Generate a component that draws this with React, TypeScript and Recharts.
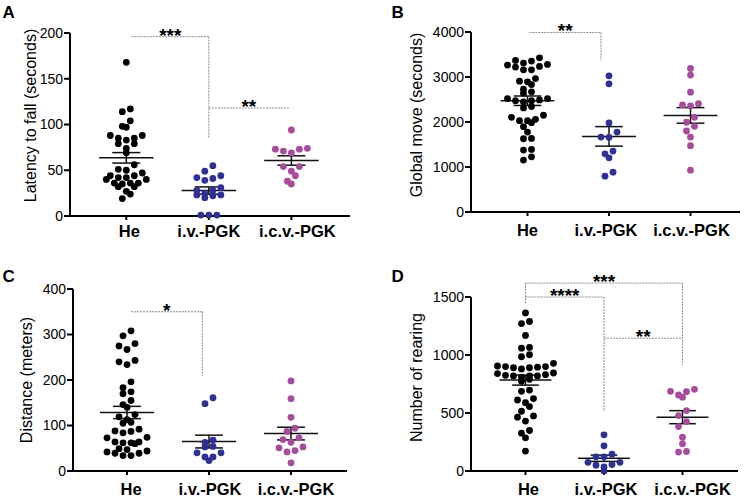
import React from 'react';
import { ScatterChart, Scatter, XAxis, YAxis, ReferenceLine } from 'recharts';

const FONT = '"Liberation Sans", Arial, Helvetica, sans-serif';

const categories = ['He', 'i.v.-PGK', 'i.c.v.-PGK'];
const groupColors = ['#000000', '#2E3192', '#A64C9B'];

// Panel A: Latency to fall (seconds)
const latencyHe = [168, 117, 114, 104, 97, 98, 88, 88, 85, 85, 83, 79, 79, 74, 69, 56, 51, 50, 47, 44, 42, 40, 40, 42, 44, 36, 35, 36, 36, 32, 32, 27, 24, 19];
const latencyIv = [55, 49, 44, 41, 42, 39, 31, 28, 28, 23, 22, 20, 23, 25, 1, 1, 1];
const latencyIcv = [94, 74, 73, 69, 71, 73, 54, 54, 49, 44, 35, 38];
const latencyTicks = [0, 50, 100, 150, 200];

// Panel B: Global move (seconds)
const moveHe = [3427, 3279, 3234, 3354, 3368, 3265, 3309, 3160, 3160, 3220, 2908, 2832, 2966, 2892, 2730, 2670, 2640, 2491, 2475, 2520, 2520, 2446, 2475, 2342, 2312, 2150, 2105, 2029, 1985, 2029, 2060, 1896, 1777, 1628, 1636, 1391, 1376, 1153, 1226];
const moveIv = [3026, 2848, 1978, 1777, 1659, 1666, 1354, 1293, 1204, 885, 796];
const moveIcv = [3189, 3042, 2662, 2379, 2357, 2408, 2105, 1994, 1904, 1800, 1666, 1472, 930];
const moveTicks = [0, 1000, 2000, 3000, 4000];

// Panel C: Distance (meters)
const distHe = [308, 297, 280, 267, 275, 240, 234, 243, 196, 174, 170, 183, 155, 146, 140, 119, 107, 105, 113, 124, 87, 84, 88, 92, 73, 74, 64, 62, 60, 62, 64, 47, 44, 39, 34, 34, 39, 42, 49];
const distIv = [161, 148, 68, 63, 54, 53, 40, 40, 31, 31, 23];
const distIcv = [198, 159, 118, 94, 87, 73, 69, 63, 53, 51, 45, 42, 18];
const distTicks = [0, 100, 200, 300, 400];

// Panel D: Number of rearing
const rearHe = [1363, 1289, 1271, 1168, 1059, 1065, 1002, 985, 928, 900, 895, 890, 880, 890, 900, 905, 825, 820, 810, 845, 840, 830, 820, 820, 773, 790, 698, 687, 624, 589, 612, 555, 515, 475, 464, 430, 349, 326, 286, 172];
const rearIv = [312, 217, 145, 122, 122, 75, 75, 50, 35, 55, 0];
const rearIcv = [704, 684, 687, 636, 655, 521, 478, 426, 383, 292, 235, 163, 168];
const rearTicks = [0, 500, 1000, 1500];

type Bracket = { x1: number; x2: number; y: number; stars: string; drop1?: number; drop2?: number };

const bracketsA: Bracket[] = [
  { x1: 1.066, x2: 2, y: 196, drop2: 85, stars: '***' },
  { x1: 2, x2: 2.97, y: 118, stars: '**' },
];
const bracketsB: Bracket[] = [{ x1: 1.022, x2: 1.902, y: 3990, drop2: 3370, stars: '**' }];
const bracketsC: Bracket[] = [{ x1: 1.048, x2: 1.918, y: 350, drop2: 209, stars: '*' }];
const bracketsD: Bracket[] = [
  { x1: 1, x2: 3, y: 1620, drop1: 1443, drop2: 913, stars: '***' },
  { x1: 1, x2: 2, y: 1500, drop2: 512, stars: '****' },
  { x1: 2, x2: 3, y: 1145, stars: '**' },
];

type PanelCfg = {
  letter: string;
  left: number;
  top: number;
  width: number;
  height: number;
  marginTop: number;
  marginRight: number;
  yAxisWidth: number;
  xAxisHeight: number;
  xDomain: [number, number];
  xTickMargin: number;
  labelNudge: number[];
  yTicks: number[];
  yLabel: string;
  yLabelDx: number;
  yLabelDy: number;
  groups: number[][];
  brackets: Bracket[];
};

const panels: PanelCfg[] = [
  {
    letter: 'A', left: 0, top: 0, width: 370, height: 250, marginTop: 33, marginRight: 20,
    yAxisWidth: 70, xAxisHeight: 34, xDomain: [0.318, 3.71], xTickMargin: 5, labelNudge: [3, 0, 6],
    yTicks: latencyTicks, yLabel: 'Latency to fall (seconds)', yLabelDx: -5, yLabelDy: -9,
    groups: [latencyHe, latencyIv, latencyIcv], brackets: bracketsA,
  },
  {
    letter: 'B', left: 370, top: 0, width: 377, height: 250, marginTop: 32, marginRight: 7,
    yAxisWidth: 101, xAxisHeight: 38, xDomain: [0.307, 3.607], xTickMargin: 8, labelNudge: [0, -3, 1],
    yTicks: moveTicks, yLabel: 'Global move (seconds)', yLabelDx: -4.5, yLabelDy: -7,
    groups: [moveHe, moveIv, moveIcv], brackets: bracketsB,
  },
  {
    letter: 'C', left: 0, top: 250, width: 370, height: 247, marginTop: 39, marginRight: 23,
    yAxisWidth: 73, xAxisHeight: 26, xDomain: [0.341, 3.683], xTickMargin: 8, labelNudge: [4, 1, 5],
    yTicks: distTicks, yLabel: 'Distance (meters)', yLabelDx: -10, yLabelDy: 0,
    groups: [distHe, distIv, distIcv], brackets: bracketsC,
  },
  {
    letter: 'D', left: 370, top: 250, width: 377, height: 247, marginTop: 47, marginRight: 9,
    yAxisWidth: 101, xAxisHeight: 26, xDomain: [0.306, 3.707], xTickMargin: 8, labelNudge: [3, 2, 10],
    yTicks: rearTicks, yLabel: 'Number of rearing', yLabelDx: -4.5, yLabelDy: -6.5,
    groups: [rearHe, rearIv, rearIcv], brackets: bracketsD,
  },
];

// Prism-like column scatter layout: points in the same value band are spread sideways.
function swarm(values: number[], center: number, pxPerY: number, pxPerX: number) {
  const binPx = 6;
  const stepPx = 8;
  const sorted = [...values].sort((a, b) => b - a);
  const bins: number[][] = [];
  let cur: number[] = [];
  for (const v of sorted) {
    if (cur.length && (cur[0] - v) * pxPerY >= binPx) {
      bins.push(cur);
      cur = [];
    }
    cur.push(v);
  }
  if (cur.length) bins.push(cur);
  const pts: { x: number; y: number }[] = [];
  for (const bin of bins) {
    const n = bin.length;
    const offs = Array.from({ length: n }, (_, i) => i - (n - 1) / 2);
    const order = offs
      .map((_, i) => i)
      .sort((a, b) => Math.abs(offs[a]) - Math.abs(offs[b]) || offs[a] - offs[b]);
    const asc = [...bin].sort((a, b) => a - b);
    order.forEach((idx, k) => pts.push({ x: center + (offs[idx] * stepPx) / pxPerX, y: asc[k] }));
  }
  return pts;
}

function stats(values: number[]) {
  const n = values.length;
  const mean = values.reduce((s, v) => s + v, 0) / n;
  const sd = Math.sqrt(values.reduce((s, v) => s + (v - mean) ** 2, 0) / (n - 1));
  return { mean, sem: sd / Math.sqrt(n) };
}

const dotShape = (color: string) => (props: any) => (
  <circle cx={props.cx} cy={props.cy} r={3.4} fill={color} />
);

const BR = { stroke: '#8c8c8c', strokeWidth: 1, strokeDasharray: '2 1' };
const MEAN = { stroke: '#111', strokeWidth: 1.5 };

const makeCategoryTick = (nudge: number[]) => (props: any) => {
  const idx = Math.round(props.payload?.value ?? 0) - 1;
  return (
    <text
      x={props.x + (nudge[idx] ?? 0)}
      y={props.y}
      dy="0.71em"
      textAnchor="middle"
      fill="#000"
      fontSize={16.5}
      fontWeight={700}
      fontFamily={FONT}
    >
      {categories[idx] ?? ''}
    </text>
  );
};

function Panel({ cfg }: { cfg: PanelCfg }) {
  const yMax = cfg.yTicks[cfg.yTicks.length - 1];
  const plotW = cfg.width - cfg.yAxisWidth - cfg.marginRight;
  const plotH = cfg.height - cfg.marginTop - cfg.xAxisHeight;
  const pxPerX = plotW / (cfg.xDomain[1] - cfg.xDomain[0]);
  const pxPerY = plotH / yMax;
  const meanHalf = 0.33;
  const capHalf = 0.17;

  const lines: React.ReactNode[] = [];
  cfg.groups.forEach((vals, gi) => {
    const c = gi + 1;
    const { mean, sem } = stats(vals);
    lines.push(
      <ReferenceLine key={`m${gi}`} segment={[{ x: c - meanHalf, y: mean }, { x: c + meanHalf, y: mean }]} ifOverflow="visible" {...MEAN} />,
      <ReferenceLine key={`u${gi}`} segment={[{ x: c - capHalf, y: mean + sem }, { x: c + capHalf, y: mean + sem }]} ifOverflow="visible" {...MEAN} />,
      <ReferenceLine key={`l${gi}`} segment={[{ x: c - capHalf, y: mean - sem }, { x: c + capHalf, y: mean - sem }]} ifOverflow="visible" {...MEAN} />,
      <ReferenceLine key={`v${gi}`} segment={[{ x: c, y: mean - sem }, { x: c, y: mean + sem }]} ifOverflow="visible" {...MEAN} />,
    );
  });

  cfg.brackets.forEach((b, bi) => {
    lines.push(
      <ReferenceLine
        key={`bh${bi}`}
        segment={[{ x: b.x1, y: b.y }, { x: b.x2, y: b.y }]}
        ifOverflow="visible"
        {...BR}
        label={{ value: b.stars, position: 'top', offset: -5, fontSize: 19, fontWeight: 700, fill: '#000', fontFamily: FONT }}
      />,
    );
    if (b.drop1 !== undefined) {
      lines.push(
        <ReferenceLine key={`bd1${bi}`} segment={[{ x: b.x1, y: b.y }, { x: b.x1, y: b.drop1 }]} ifOverflow="visible" {...BR} />,
      );
    }
    if (b.drop2 !== undefined) {
      lines.push(
        <ReferenceLine key={`bd2${bi}`} segment={[{ x: b.x2, y: b.y }, { x: b.x2, y: b.drop2 }]} ifOverflow="visible" {...BR} />,
      );
    }
  });

  return (
    <div style={{ position: 'absolute', left: cfg.left, top: cfg.top }}>
      <ScatterChart
        width={cfg.width}
        height={cfg.height}
        margin={{ top: cfg.marginTop, right: cfg.marginRight, bottom: 0, left: 0 }}
      >
        <XAxis
          type="number"
          dataKey="x"
          domain={cfg.xDomain}
          ticks={[1, 2, 3]}
          interval={0}
          height={cfg.xAxisHeight}
          tickSize={4}
          tickMargin={cfg.xTickMargin}
          axisLine={{ stroke: '#000', strokeWidth: 2 }}
          tickLine={{ stroke: '#000', strokeWidth: 2 }}
          tick={makeCategoryTick(cfg.labelNudge)}
        />
        <YAxis
          type="number"
          dataKey="y"
          domain={[0, yMax]}
          ticks={cfg.yTicks}
          interval={0}
          width={cfg.yAxisWidth}
          tickSize={6}
          tickMargin={1}
          axisLine={{ stroke: '#000', strokeWidth: 2 }}
          tickLine={{ stroke: '#000', strokeWidth: 2 }}
          tick={{ fill: '#000', fontSize: 14, fontFamily: FONT }}
          label={{
            value: cfg.yLabel,
            angle: -90,
            position: 'center',
            dx: cfg.yLabelDx,
            dy: cfg.yLabelDy,
            fontSize: 16,
            fill: '#000',
            fontFamily: FONT,
          }}
        />
        {cfg.groups.map((vals, gi) => (
          <Scatter
            key={gi}
            data={swarm(vals, gi + 1, pxPerY, pxPerX)}
            shape={dotShape(groupColors[gi])}
            isAnimationActive={false}
          />
        ))}
        {lines}
      </ScatterChart>
    </div>
  );
}

const letterPos = [
  { x: 2.5, y: 18.3 },
  { x: 391.5, y: 17.5 },
  { x: 2.5, y: 282.3 },
  { x: 391.5, y: 282.3 },
];

export default function App() {
  return (
    <div
      style={{
        position: 'absolute',
        left: 0,
        top: 0,
        width: 747,
        height: 497,
        background: '#fff',
        fontFamily: FONT,
      }}
    >
      {panels.map((p) => (
        <Panel key={p.letter} cfg={p} />
      ))}
      <svg width={747} height={497} style={{ position: 'absolute', left: 0, top: 0, pointerEvents: 'none' }}>
        {panels.map((p, i) => (
          <text key={p.letter} x={letterPos[i].x} y={letterPos[i].y} fontSize={17} fontWeight={700} fontFamily={FONT} fill="#000">
            {p.letter}
          </text>
        ))}
      </svg>
    </div>
  );
}
